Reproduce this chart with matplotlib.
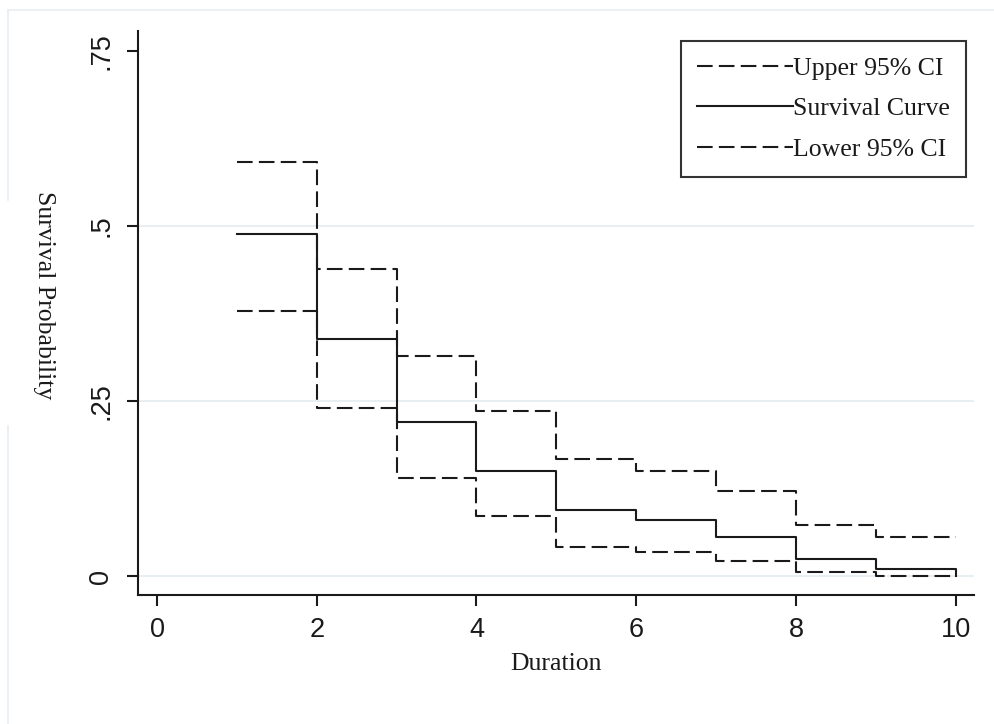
import matplotlib
matplotlib.use("Agg")
import matplotlib.pyplot as plt
from matplotlib.lines import Line2D

# ---- data ----
durations = [1, 2, 3, 4, 5, 6, 7, 8, 9, 10]
survival = [0.489, 0.339, 0.220, 0.150, 0.094, 0.080, 0.056, 0.024, 0.010, 0.0]
upper_ci = [0.592, 0.438, 0.314, 0.236, 0.167, 0.150, 0.121, 0.073, 0.056, 0.056]
lower_ci = [0.379, 0.240, 0.140, 0.086, 0.042, 0.034, 0.021, 0.006, 0.0, 0.0]
x_ticks = [0, 2, 4, 6, 8, 10]
y_ticks = [0, 0.25, 0.5, 0.75]
y_ticklabels = ["0", ".25", ".5", ".75"]
grid_levels = [0, 0.25, 0.5]

SERIF = ["Liberation Serif", "DejaVu Serif"]
SANS = ["Liberation Sans", "DejaVu Sans"]
INK = "#1a1a1a"
GRID = "#e6eef1"

fig = plt.figure(figsize=(9.94, 7.24), dpi=100)
fig.patch.set_facecolor("white")
W, H = 994, 724

# faint outer graph-region border (top and left)
def fx(px): return px / W
def fy(py): return 1 - py / H
fig.add_artist(Line2D([fx(8), 1.0], [fy(10), fy(10)], color=GRID, lw=1.2))
fig.add_artist(Line2D([fx(8), fx(8)], [fy(10), fy(200)], color=GRID, lw=1.2))
fig.add_artist(Line2D([fx(8), fx(8)], [fy(426), 0.0], color=GRID, lw=1.2))

ax = fig.add_axes([138 / W, 1 - 595 / H, (974 - 138) / W, (595 - 31) / H])
ax.set_xlim(-0.238, 10.23)
ax.set_ylim(-0.0271, 0.7786)

for g in grid_levels:
    ax.axhline(g, color=GRID, lw=1.3, zorder=0)

lw = 1.5
dash = (0, (7.5, 3.0))
ax.step(durations, upper_ci, where="post", color=INK, lw=lw, linestyle=dash,
        label="Upper 95% CI", zorder=3)
ax.step(durations, survival, where="post", color=INK, lw=lw, linestyle="-",
        label="Survival Curve", zorder=3)
ax.step(durations, lower_ci, where="post", color=INK, lw=lw, linestyle=dash,
        label="Lower 95% CI", zorder=3)

for s in ["top", "right"]:
    ax.spines[s].set_visible(False)
for s in ["left", "bottom"]:
    ax.spines[s].set_linewidth(1.5)
    ax.spines[s].set_color(INK)

ax.set_xticks(x_ticks)
ax.set_xticklabels([str(t) for t in x_ticks], fontfamily=SANS, fontsize=19.5, color=INK)
ax.set_yticks(y_ticks)
ax.set_yticklabels(y_ticklabels, fontfamily=SANS, fontsize=19.5, color=INK,
                   rotation=90, va="center", ha="right")
ax.tick_params(axis="both", length=8, width=1.5, color=INK)
ax.tick_params(axis="x", pad=8)
ax.tick_params(axis="y", pad=9)

ax.set_xlabel("Duration", fontfamily=SERIF, fontsize=18.5, color=INK, labelpad=7)
fig.text(44 / W, 1 - 295 / H, "Survival Probability", fontfamily=SERIF,
         fontsize=18.5, color=INK, rotation=270, ha="center", va="center")

leg = ax.legend(loc="upper right", bbox_to_anchor=((966 - 138) / 836, (595 - 41) / 564),
                borderaxespad=0, frameon=True, fancybox=False, framealpha=1,
                edgecolor="#333333", prop={"family": SERIF, "size": 18.5},
                handlelength=3.75, handletextpad=0.0, labelspacing=0.68,
                borderpad=0.62)
leg.get_frame().set_linewidth(1.5)
for t in leg.get_texts():
    t.set_color(INK)

fig.savefig("out.png", dpi=100)
